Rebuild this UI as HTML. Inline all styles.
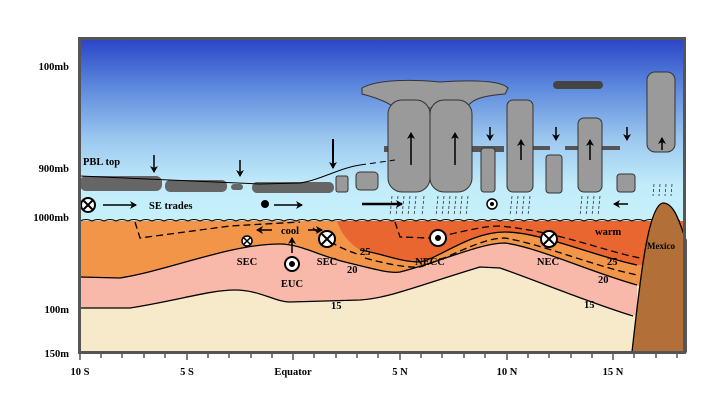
<!DOCTYPE html>
<html><head><meta charset="utf-8"><style>
html,body{margin:0;padding:0;background:#fff;width:721px;height:404px;overflow:hidden}
svg{display:block}
text{font-family:"Liberation Serif",serif;font-weight:bold;font-size:10.5px;fill:#000}
</style></head><body>
<svg width="721" height="404" viewBox="0 0 721 404" xmlns="http://www.w3.org/2000/svg">
<defs>
<linearGradient id="sky" x1="0" y1="0" x2="0" y2="1">
<stop offset="0" stop-color="#2a44c8"/>
<stop offset="0.25" stop-color="#5a86dc"/>
<stop offset="0.55" stop-color="#9cc8f0"/>
<stop offset="0.8" stop-color="#c2ecfa"/>
<stop offset="1" stop-color="#c6f0fa"/>
</linearGradient>
<marker id="ah" markerWidth="8" markerHeight="8" refX="6" refY="4" orient="auto" markerUnits="userSpaceOnUse"><path d="M0,0 L7,4 L0,8 L2,4z" fill="#000"/></marker>
</defs>
<rect x="80" y="39" width="604" height="183" fill="url(#sky)"/>
<rect x="80" y="221" width="604" height="131" fill="#f7eacb"/>
<path d="M80,277 L120,278 C170,270 230,244 280,244 C300,244 320,256 345,262 C370,268 390,274 400,272 C440,262 480,243 505,243 C540,248 590,272 637,285 L637,316 C590,303 540,282 500,268 L480,267 C420,285 390,298 360,300 L290,302 C275,302 260,290 235,290 C210,290 180,300 130,308 L80,308Z" fill="#f8b8aa"/>
<path d="M80,221 L684,221 L684,300 L637,285 C590,272 540,248 505,243 C480,243 440,262 400,272 C390,274 370,268 345,262 C320,256 300,244 280,244 C230,244 170,270 120,278 L80,277Z" fill="#f29548"/>
<path d="M337,221 L684,221 L684,270 L637,265 C590,255 540,232 505,232 C470,232 440,258 420,262 C400,262 380,253 360,250 C345,240 340,230 337,221Z" fill="#ea6630"/>
<g fill="none" stroke="#000" stroke-width="1.3">
<path d="M80,277 L120,278 C170,270 230,244 280,244 C300,244 320,256 345,262 C370,268 390,274 400,272 C440,262 480,243 505,243 C540,248 590,272 637,285"/>
<path d="M360,250 C380,253 400,262 420,262 C440,258 470,232 505,232 C540,232 590,255 637,265"/>
<path d="M80,308 L130,308 C180,300 210,290 235,290 C260,290 275,302 290,302 L360,300 C390,298 420,285 480,267 L500,268 C540,282 590,303 633,316"/>
</g>
<g fill="none" stroke="#000" stroke-width="1.3" stroke-dasharray="7,4">
<path d="M135,222 L140,238 L230,226 L300,222"/>
<path d="M313,228 C330,244 345,250 360,255"/>
<path d="M395,222 L400,237 L430,238 C460,233 480,226 500,226 C560,232 600,250 640,258"/>
<path d="M365,258 C390,265 410,268 420,267 C450,258 480,238 505,238 C545,245 590,265 637,275"/>
</g>
<path d="M80,221 q6,-3 12,0 q6,-3 12,0 q6,-3 12,0 q6,-3 12,0 q6,-3 12,0 q6,-3 12,0 q6,-3 12,0 q6,-3 12,0 q6,-3 12,0 q6,-3 12,0 q6,-3 12,0 q6,-3 12,0 q6,-3 12,0 q6,-3 12,0 q6,-3 12,0 q6,-3 12,0 q6,-3 12,0 q6,-3 12,0 q6,-3 12,0 q6,-3 12,0 q6,-3 12,0 q6,-3 12,0 q6,-3 12,0 q6,-3 12,0 q6,-3 12,0 q6,-3 12,0 q6,-3 12,0 q6,-3 12,0 q6,-3 12,0 q6,-3 12,0 q6,-3 12,0 q6,-3 12,0 q6,-3 12,0 q6,-3 12,0 q6,-3 12,0 q6,-3 12,0 q6,-3 12,0 q6,-3 12,0 q6,-3 12,0 q6,-3 12,0 q6,-3 12,0 q6,-3 12,0 q6,-3 12,0 q6,-3 12,0 q6,-3 12,0 q6,-3 12,0 q6,-3 12,0 q6,-3 12,0 q6,-3 12,0 q6,-3 12,0" fill="none" stroke="#000" stroke-width="1"/>
<path d="M632,352 C640,280 648,205 663,203 C675,203 680,225 686,240 L686,352Z" fill="#b27038" stroke="#000" stroke-width="1.3"/>
<g fill="#666">
<rect x="80" y="176" width="82" height="15" rx="6"/>
<rect x="165" y="180" width="62" height="12" rx="5"/>
<rect x="231" y="184" width="12" height="6" rx="3"/>
<rect x="252" y="182" width="82" height="11" rx="5"/>
<rect x="553" y="81" width="50" height="8" rx="4" fill="#444"/>
<rect x="384" y="146" width="120" height="6" fill="#555"/>
<rect x="530" y="146" width="20" height="4" fill="#555"/>
<rect x="565" y="146" width="20" height="4" fill="#555"/>
<rect x="600" y="146" width="20" height="4" fill="#555"/>
</g>
<g fill="#9a9a9a" stroke="#333" stroke-width="1">
<rect x="336" y="176" width="12" height="16" rx="2"/>
<rect x="356" y="172" width="22" height="18" rx="4"/>
<path d="M362,88 C380,78 420,80 440,82 C470,80 500,80 508,88 L505,94 C480,96 470,100 465,110 L455,110 L430,108 L395,108 C385,100 370,96 362,94Z"/>
<rect x="388" y="100" width="42" height="92" rx="14"/>
<rect x="430" y="100" width="42" height="92" rx="14"/>
<rect x="481" y="148" width="14" height="44" rx="3"/>
<rect x="507" y="100" width="26" height="92" rx="6"/>
<rect x="546" y="155" width="16" height="38" rx="3"/>
<rect x="578" y="118" width="24" height="74" rx="6"/>
<rect x="617" y="174" width="18" height="18" rx="3"/>
<rect x="647" y="72" width="28" height="80" rx="8"/>
</g>
<g stroke="#333" stroke-width="0.8" stroke-dasharray="3,2">
<path d="M392,196 l-2,20 M398,196 l-2,20 M404,196 l-2,20 M410,196 l-2,20 M416,196 l-2,20 M424,196 l-2,20"/>
<path d="M438,196 l-2,20 M444,196 l-2,20 M450,196 l-2,20 M456,196 l-2,20 M462,196 l-2,20 M468,196 l-2,20"/>
<path d="M512,196 l-2,20 M518,196 l-2,20 M524,196 l-2,20 M530,196 l-2,20"/>
<path d="M582,196 l-2,20 M588,196 l-2,20 M594,196 l-2,20 M600,196 l-2,20"/>
<path d="M654,184 l-1,12 M660,184 l-1,12 M666,184 l-1,12 M672,184 l-1,12"/>
</g>
<g stroke="#000" stroke-width="1.5" fill="none" marker-end="url(#ah)">
<path d="M103,205 L136,205"/>
<path d="M274,205 L302,205"/>
<path d="M362,204 L402,204" stroke-width="2.5"/>
<path d="M628,204 L614,204"/>
<path d="M154,155 L154,172"/>
<path d="M240,160 L240,176"/>
<path d="M333,139 L333,168" stroke-width="2"/>
<path d="M490,127 L490,140"/>
<path d="M556,127 L556,140"/>
<path d="M627,127 L627,140"/>
<path d="M411,165 L411,133"/>
<path d="M455,165 L455,133"/>
<path d="M521,160 L521,140"/>
<path d="M590,160 L590,140"/>
<path d="M662,150 L662,138"/>
<path d="M292,253 L292,238"/>
<path d="M272,230 L257,230"/>
<path d="M308,230 L322,230"/>
</g>
<path d="M80,176 L260,184 L300,183 C320,180 340,168 360,165" fill="none" stroke="#000" stroke-width="1"/>
<path d="M360,165 L395,160" fill="none" stroke="#000" stroke-width="1" stroke-dasharray="6,4"/>
<g stroke="#000" fill="#fff">
<circle cx="88" cy="205" r="7" stroke-width="2"/>
<path d="M83,200 L93,210 M93,200 L83,210" stroke-width="2"/>
<circle cx="265" cy="204" r="3.5" fill="#000"/>
<circle cx="492" cy="204" r="5" stroke-width="1.5"/><circle cx="492" cy="204" r="1.5" fill="#000"/>
<circle cx="247" cy="241" r="5" stroke-width="1.5"/><path d="M244,238 L250,244 M250,238 L244,244" stroke-width="1.5"/>
<circle cx="292" cy="264" r="7" stroke-width="2"/><circle cx="292" cy="264" r="2.5" fill="#000"/>
<circle cx="327" cy="239" r="8" stroke-width="2"/><path d="M322,234 L332,244 M332,234 L322,244" stroke-width="2"/>
<circle cx="438" cy="238" r="8" stroke-width="2"/><circle cx="438" cy="238" r="2.5" fill="#000"/>
<circle cx="549" cy="239" r="8" stroke-width="2"/><path d="M544,234 L554,244 M554,234 L544,244" stroke-width="2"/>
</g>
<rect x="79.5" y="38.5" width="605" height="314" fill="none" stroke="#555" stroke-width="3"/>
<g stroke="#000" stroke-width="1">
<path d="M80,354 v6 M101,354 v4 M122,354 v4 M144,354 v4 M165,354 v4 M187,354 v6 M208,354 v4 M229,354 v4 M251,354 v4 M272,354 v4 M293,354 v6 M314,354 v4 M336,354 v4 M357,354 v4 M378,354 v4 M400,354 v6 M421,354 v4 M442,354 v4 M464,354 v4 M485,354 v4 M507,354 v6 M528,354 v4 M549,354 v4 M571,354 v4 M592,354 v4 M613,354 v6 M634,354 v4 M656,354 v4 M677,354 v4"/>
</g>
<g text-anchor="end">
<text x="69" y="70">100mb</text>
<text x="69" y="172">900mb</text>
<text x="69" y="221">1000mb</text>
<text x="69" y="313">100m</text>
<text x="69" y="357">150m</text>
</g>
<g text-anchor="middle">
<text x="80" y="375">10 S</text>
<text x="187" y="375">5 S</text>
<text x="293" y="375">Equator</text>
<text x="400" y="375">5 N</text>
<text x="507" y="375">10 N</text>
<text x="613" y="375">15 N</text>
<text x="247" y="265">SEC</text>
<text x="292" y="287">EUC</text>
<text x="290" y="234">cool</text>
<text x="327" y="265">SEC</text>
<text x="430" y="265">NECC</text>
<text x="548" y="265">NEC</text>
</g>
<text x="83" y="165">PBL top</text>
<text x="149" y="209">SE trades</text>
<text x="595" y="235">warm</text>
<text x="360" y="255">25</text>
<text x="607" y="265">25</text>
<text x="347" y="273">20</text>
<text x="598" y="283">20</text>
<text x="331" y="309">15</text>
<text x="584" y="308">15</text>
<text x="647" y="249" style="font-size:9px">Mexico</text>
</svg>
</body></html>
